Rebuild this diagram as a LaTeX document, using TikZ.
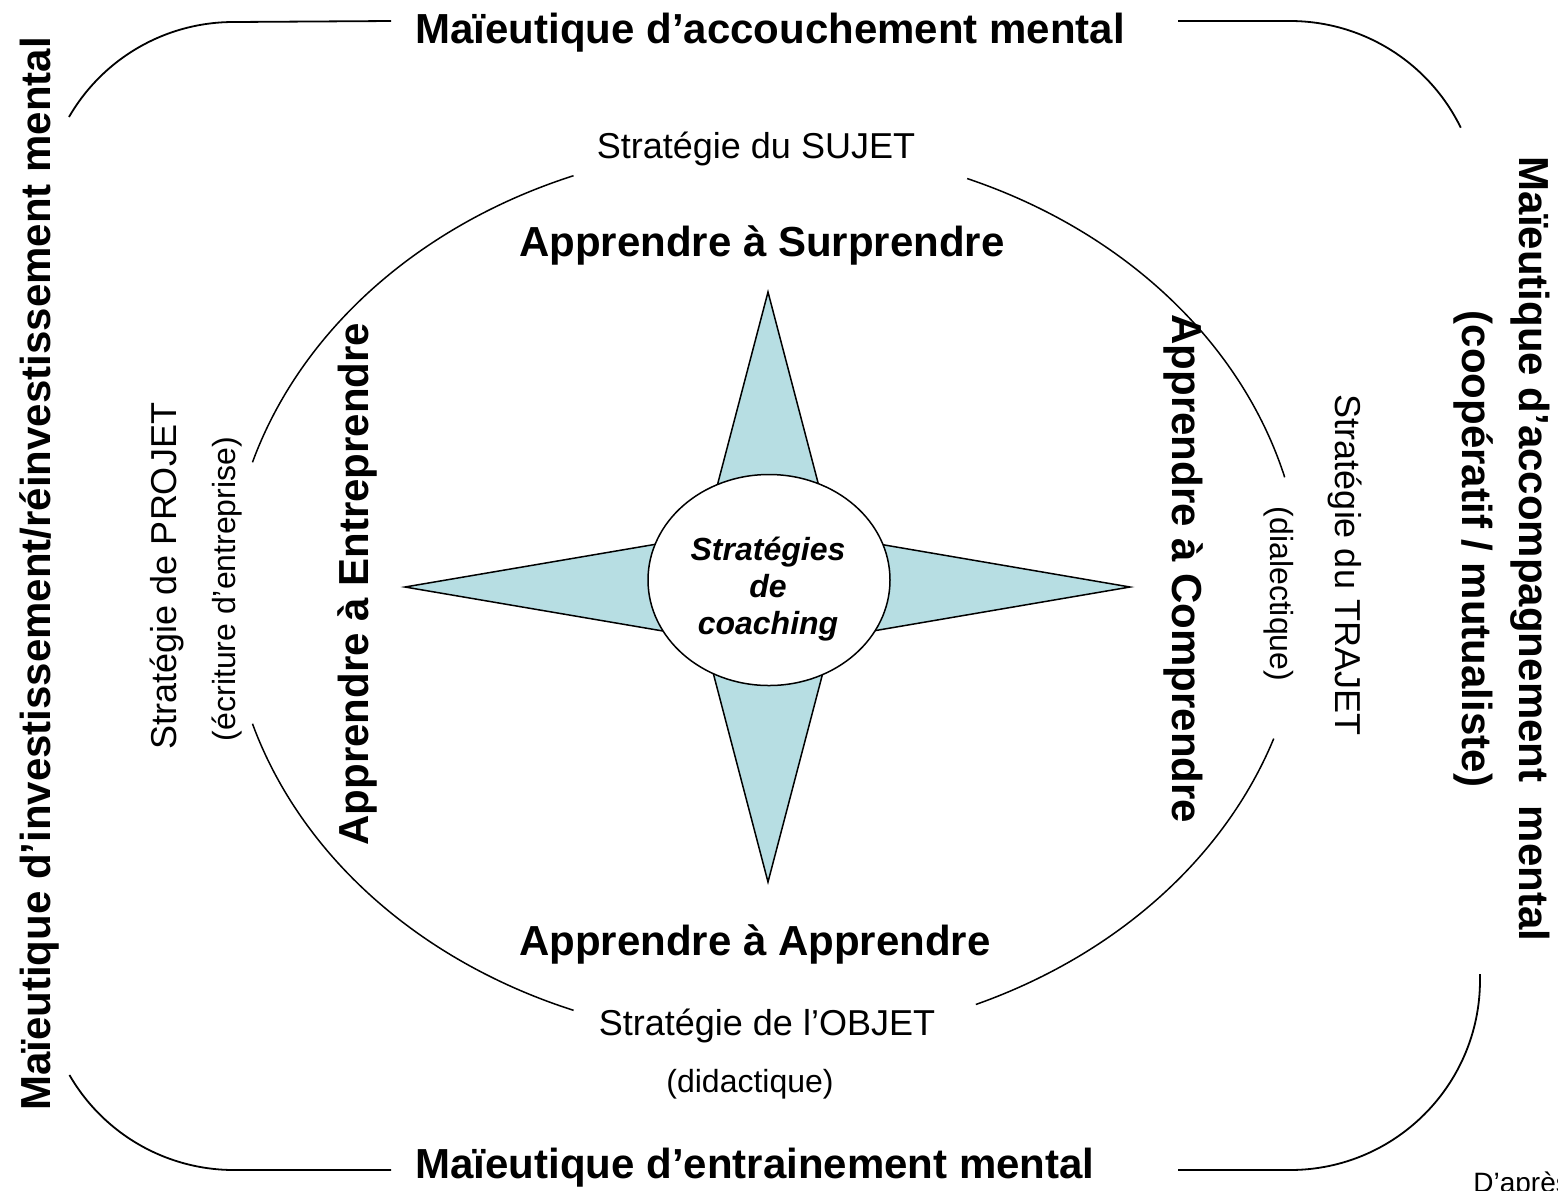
\documentclass[tikz,border=0pt]{standalone}
\usepackage{fontspec}
\setmainfont{Liberation Sans}
\usetikzlibrary{shapes.geometric}
\tikzstyle{sheet} = [x = .5pt, y = -.5pt]
\definecolor{starColor}{RGB}{183,222,227}
\tikzstyle{frameLine} = [color=black, line width=.9pt]
\tikzstyle{ringLine} = [color=black, line width=.75pt]
\tikzstyle{starStyle} = [draw=black, fill=starColor, line width=.75pt, line join=miter]
\tikzstyle{hubStyle} = [draw=black, fill=white, line width=.75pt, ellipse, inner sep=0pt, minimum width=121pt, minimum height=105.5pt]
\tikzstyle{hubText} = [inner sep=0pt, align=center, font=\bfseries\itshape\fontsize{16}{18.5}\selectfont]
\tikzstyle{boldText} = [font=\bfseries\fontsize{21}{28.5}\selectfont, inner sep=0pt, anchor=base]
\tikzstyle{strategyText} = [font=\fontsize{18}{22}\selectfont, inner sep=0pt, anchor=base]
\tikzstyle{noteText} = [font=\fontsize{16}{19}\selectfont, inner sep=0pt, anchor=base]
\newcommand{\ringArc}[2]{\draw [ringLine] ([shift={(#1:268.5pt and 223.5pt)}]ringCenter) arc [start angle=#1, end angle=#2, x radius=268.5pt, y radius=223.5pt];}
\begin{document}
\begin{tikzpicture}[sheet]
  \useasboundingbox (0,0) rectangle (1558,1190);

  % outer frame, open where the titles stand
  \draw [frameLine] (69,117) arc [start angle=150, end angle=90, radius=95pt] -- (391,21);
  \draw [frameLine] (1178,21) -- (1290,21) arc [start angle=90, end angle=26, radius=95pt];
  \draw [frameLine] (1480,974) -- (1480,980) arc [start angle=0, end angle=-90, radius=95pt] -- (1178,1170);
  \draw [frameLine] (391,1170) -- (234,1170) arc [start angle=270, end angle=210, radius=95pt];

  % ring of the four strategies
  \coordinate (ringCenter) at (766,593);
  \ringArc{163}{111}
  \ringArc{68}{15}
  \ringArc{-19}{-67}
  \ringArc{-111}{-163}

  % compass star
  \draw [starStyle] (768,292) -- (832,536) -- (1130,587) -- (832,638) -- (768,882)
    -- (704,638) -- (405,587) -- (704,536) -- cycle;
  \node [hubStyle] (hub) at (769,580) {};
  \node [hubText] (coaching) at (768,589) {Stratégies\\de\\coaching};

  % titles on the frame
  \node [boldText, anchor=base west] (topTitle) at (415,43) {Maïeutique d’accouchement mental};
  \node [boldText, anchor=base west] (bottomTitle) at (415,1178) {Maïeutique d’entrainement mental};
  \node [boldText, rotate=90] (leftTitle) at (50,574) {Maïeutique d’investissement/réinvestissement mental};
  \node [boldText, rotate=-90, anchor=center, align=center] (rightTitle) at (1502,549) {Maïeutique d’accompagnement\ \ mental\\(coopératif / mutualiste)};

  % learning
  \node [boldText] (surprendre) at (762,256) {Apprendre à Surprendre};
  \node [boldText] (apprendre) at (755,955) {Apprendre à Apprendre};
  \node [boldText, rotate=90] (entreprendre) at (368,584) {Apprendre à Entreprendre};
  \node [boldText, rotate=-90] (comprendre) at (1172,569) {Apprendre à Comprendre};

  % strategies
  \node [strategyText] (sujet) at (756,158) {Stratégie du SUJET};
  \node [strategyText] (objet) at (767,1035) {Stratégie de l’OBJET};
  \node [noteText] (didactique) at (750,1092) {(didactique)};
  \node [strategyText, rotate=90] (projet) at (176,576) {Stratégie de PROJET};
  \node [noteText, rotate=90] (ecriture) at (235,589) {(écriture d’entreprise)};
  \node [strategyText, rotate=-90] (trajet) at (1335,565) {Stratégie du TRAJET};
  \node [noteText, rotate=-90] (dialectique) at (1270,594) {(dialectique)};

  \node [noteText, font=\fontsize{14}{17}\selectfont, anchor=base west] (source) at (1473,1192) {D’après};
\end{tikzpicture}
\end{document}
